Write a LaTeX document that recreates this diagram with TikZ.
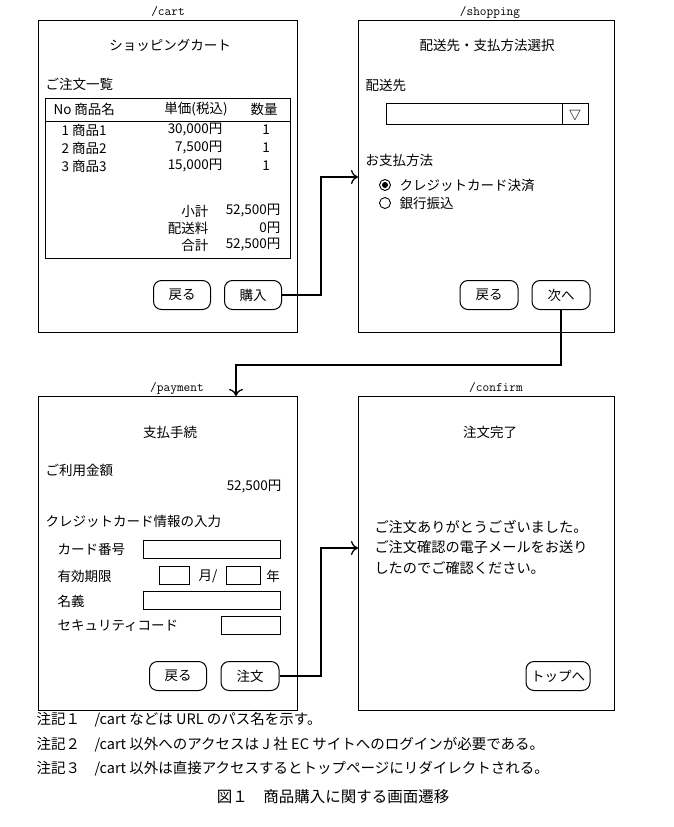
\documentclass[tikz,border=0pt]{standalone}
\usepackage{fontspec}
\setmainfont{Noto Sans CJK JP}
\usetikzlibrary{arrows.meta}
\tikzset{
  screen/.style={draw,line width=1pt},
  btn/.style={draw,rounded corners=8pt,line width=1pt,minimum height=29pt,inner sep=2pt},
  field/.style={draw,line width=0.9pt},
  path/.style={font=\ttfamily\fontsize{13}{14}\selectfont},
  flow/.style={line width=1.3pt,-{To[length=7pt,width=14pt,line width=1.3pt]}}
}
\begin{document}
\begin{tikzpicture}[x=1pt,y=-1pt,font=\fontsize{13.5}{15}\selectfont]
\useasboundingbox (0,0) rectangle (673,827);
% screens
\draw[screen] (38,20) rectangle (297,332);
\draw[screen] (358,20) rectangle (614,332);
\draw[screen] (38,396) rectangle (297,710);
\draw[screen] (358,396) rectangle (614,710);
\node[path] at (168,12) {/cart};
\node[path] at (490,12) {/shopping};
\node[path] at (177,388) {/payment};
\node[path] at (496,388) {/confirm};
% cart
\node at (170,45) {ショッピングカート};
\node[anchor=west] at (42,84) {ご注文一覧};
\draw[field] (45,98) rectangle (290,258);
\draw (45,121) -- (290,121);
\node[anchor=west] at (50,109) {No 商品名};
\node at (196,109) {単価(税込)};
\node at (264,109) {数量};
\foreach \n/\p [count=\i] in {1/30{,}000円,2/7{,}500円,3/15{,}000円}{
  \node[anchor=west] at (58,112+18*\i) {\n\ 商品\n};
  \node[anchor=east] at (226,112+18*\i) {\p};
  \node at (266,112+18*\i) {1};
}
\foreach \l/\v [count=\i] in {小計/52{,}500円,配送料/0円,合計/52{,}500円}{
  \node[anchor=east] at (212,194+17*\i) {\l};
  \node[anchor=east] at (284,194+17*\i) {\v};
}
\node[btn,minimum width=57pt] (back1) at (182,295) {戻る};
\node[btn,minimum width=57pt] (buy) at (253,295) {購入};
% shopping
\node at (487,45) {配送先・支払方法選択};
\node[anchor=west] at (362,85) {配送先};
\draw[field] (386,103) rectangle (588,124);
\draw (562,103) -- (562,124);
\node at (575,114) {$\bigtriangledown$};
\node[anchor=west] at (362,160) {お支払方法};
\draw[line width=0.9pt] (385,185) circle (5.5pt);
\fill (385,185) circle (3pt);
\draw[line width=0.9pt] (385,203) circle (5.5pt);
\node[anchor=west] at (396,185) {クレジットカード決済};
\node[anchor=west] at (396,203) {銀行振込};
\node[btn,minimum width=58pt] (back2) at (489,295) {戻る};
\node[btn,minimum width=58pt] (next) at (561,295) {次へ};
% payment
\node at (170,432) {支払手続};
\node[anchor=west] at (42,470) {ご利用金額};
\node[anchor=east] at (285,487) {52{,}500円};
\node[anchor=west] at (42,521) {クレジットカード情報の入力};
\node[anchor=west] at (54,549) {カード番号};
\draw[field] (143,540) rectangle (280,558);
\node[anchor=west] at (54,576) {有効期限};
\draw[field] (159,566) rectangle (189,584);
\node at (208,576) {月/};
\draw[field] (226,566) rectangle (260,584);
\node at (273,576) {年};
\node[anchor=west] at (54,601) {名義};
\draw[field] (143,591) rectangle (280,609);
\node[anchor=west] at (54,626) {セキュリティコード};
\draw[field] (221,616) rectangle (280,634);
\node[btn,minimum width=57pt] (back3) at (178,676) {戻る};
\node[btn,minimum width=58pt] (order) at (250,676) {注文};
% confirm
\node at (490,432) {注文完了};
\node[anchor=west,align=left,font=\fontsize{14.2}{20.5}\selectfont] at (371,547)
  {ご注文ありがとうございました。\\ご注文確認の電子メールをお送り\\したのでご確認ください。};
\node[btn,minimum width=64pt,inner sep=1pt] (top) at (558,676) {トップへ};
% transitions
\coordinate (shopin) at (358,177);
\coordinate (payin) at (236,396);
\coordinate (confin) at (358,548);
\draw[flow] (buy.east) -- (321,295) -- (321,177) -- (shopin);
\draw[flow] (next.south) -- (561,365) -- (236,365) -- (payin);
\draw[flow] (order.east) -- (321,676) -- (321,548) -- (confin);
% notes
\begin{scope}[every node/.style={anchor=west,font=\fontsize{14.5}{16}\selectfont}]
\node (n1) at (33,720) {注記１　/cart などは URL のパス名を示す。};
\node (n2) at (33,745) {注記２　/cart 以外へのアクセスは J 社 EC サイトへのログインが必要である。};
\node (n3) at (33,769) {注記３　/cart 以外は直接アクセスするとトップページにリダイレクトされる。};
\end{scope}
\node[font=\fontsize{15.5}{17}\selectfont] (cap) at (333,797) {図１　商品購入に関する画面遷移};
\end{tikzpicture}
\end{document}
